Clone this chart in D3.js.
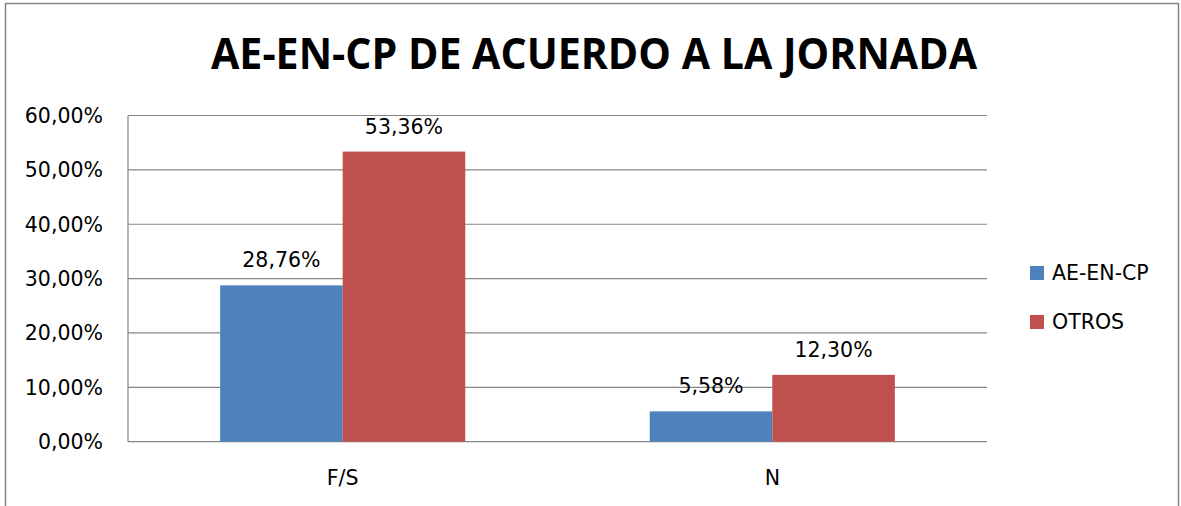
<!DOCTYPE html>
<html>
<head>
<meta charset="utf-8">
<script src="https://cdn.jsdelivr.net/npm/d3@7"></script>
<style>
  html, body { margin: 0; padding: 0; background: #fff; }
  svg { display: block; }
  text { font-family: "DejaVu Sans", "Open Sans", sans-serif; fill: #000; }
  .title { font-family: "Open Sans", "Noto Sans", sans-serif; }
</style>
</head>
<body>
<div id="chart"></div>
<script>
// ── Data ─────────────────────────────────────────────
const categories = ['F/S', 'N'];
const seriesNames = ['AE-EN-CP', 'OTROS'];
const aeEnCp = [28.76, 5.58];
const otros = [53.36, 12.30];
const yTicks = [0, 10, 20, 30, 40, 50, 60];
const colors = ['#4F81BD', '#C0504D'];

const W = 1181, H = 506;
const plot = { left: 128, right: 987, top: 115.5, bottom: 441.7 };

const fmt = v => v.toFixed(2).replace('.', ',') + '%';

const svg = d3.select('#chart').append('svg')
    .attr('width', W)
    .attr('height', H);

// Outer chart border
svg.append('rect')
    .attr('x', 5.5).attr('y', 3.5)
    .attr('width', 1173).attr('height', 530)
    .attr('fill', 'none')
    .attr('stroke', '#868686')
    .attr('stroke-width', 1.5);

// Title
svg.append('text')
    .attr('class', 'title')
    .attr('x', 594)
    .attr('y', 69)
    .attr('text-anchor', 'middle')
    .attr('textLength', 766)
    .attr('lengthAdjust', 'spacingAndGlyphs')
    .style('font-size', '43px')
    .style('font-weight', 'bold')
    .text('AE-EN-CP DE ACUERDO A LA JORNADA');

// Scales
const y = d3.scaleLinear().domain([0, 60]).range([plot.bottom, plot.top]);
const x0 = d3.scaleBand()
    .domain(categories)
    .range([plot.left, plot.right])
    .paddingInner(0.4295)
    .paddingOuter(0.2145);
const x1 = d3.scaleBand()
    .domain(seriesNames)
    .range([0, x0.bandwidth()]);

// Gridlines
svg.append('g')
    .selectAll('line')
    .data(yTicks)
    .enter()
    .append('line')
    .attr('x1', plot.left).attr('x2', plot.right)
    .attr('y1', d => y(d)).attr('y2', d => y(d))
    .attr('stroke', '#868686')
    .attr('stroke-width', 1.2);

// Y axis line
svg.append('line')
    .attr('x1', plot.left).attr('x2', plot.left)
    .attr('y1', plot.top).attr('y2', plot.bottom)
    .attr('stroke', '#868686')
    .attr('stroke-width', 1.2);

// Y tick labels
svg.append('g')
    .selectAll('text')
    .data(yTicks)
    .enter()
    .append('text')
    .attr('x', 103)
    .attr('y', d => y(d))
    .attr('dy', '0.36em')
    .attr('text-anchor', 'end')
    .style('font-size', '20.5px')
    .text(d => fmt(d));

// Bars
const rows = categories.map((c, i) => ({ cat: c, vals: [aeEnCp[i], otros[i]] }));
const groups = svg.append('g')
    .selectAll('g')
    .data(rows)
    .enter()
    .append('g')
    .attr('transform', d => `translate(${x0(d.cat)},0)`);

groups.selectAll('rect')
    .data(d => d.vals.map((v, j) => ({ name: seriesNames[j], v, j })))
    .enter()
    .append('rect')
    .attr('x', d => x1(d.name))
    .attr('y', d => y(d.v))
    .attr('width', x1.bandwidth())
    .attr('height', d => y(0) - y(d.v))
    .attr('fill', d => colors[d.j]);

// Value labels
groups.selectAll('text')
    .data(d => d.vals.map((v, j) => ({ name: seriesNames[j], v, j })))
    .enter()
    .append('text')
    .attr('x', d => x1(d.name) + x1.bandwidth() / 2)
    .attr('y', d => y(d.v) - 18)
    .attr('text-anchor', 'middle')
    .style('font-size', '20.5px')
    .text(d => fmt(d.v));

// Category labels
svg.append('g')
    .selectAll('text')
    .data(categories)
    .enter()
    .append('text')
    .attr('x', d => x0(d) + x0.bandwidth() / 2)
    .attr('y', 485)
    .attr('text-anchor', 'middle')
    .style('font-size', '20.5px')
    .text(d => d);

// Legend
const legend = svg.append('g')
    .selectAll('g')
    .data(seriesNames)
    .enter()
    .append('g')
    .attr('transform', (d, i) => `translate(1030,${266 + i * 49})`);
legend.append('rect')
    .attr('width', 14).attr('height', 14)
    .attr('fill', (d, i) => colors[i]);
legend.append('text')
    .attr('x', 22)
    .attr('y', 14)
    .style('font-size', '20.5px')
    .text(d => d);
</script>
</body>
</html>
